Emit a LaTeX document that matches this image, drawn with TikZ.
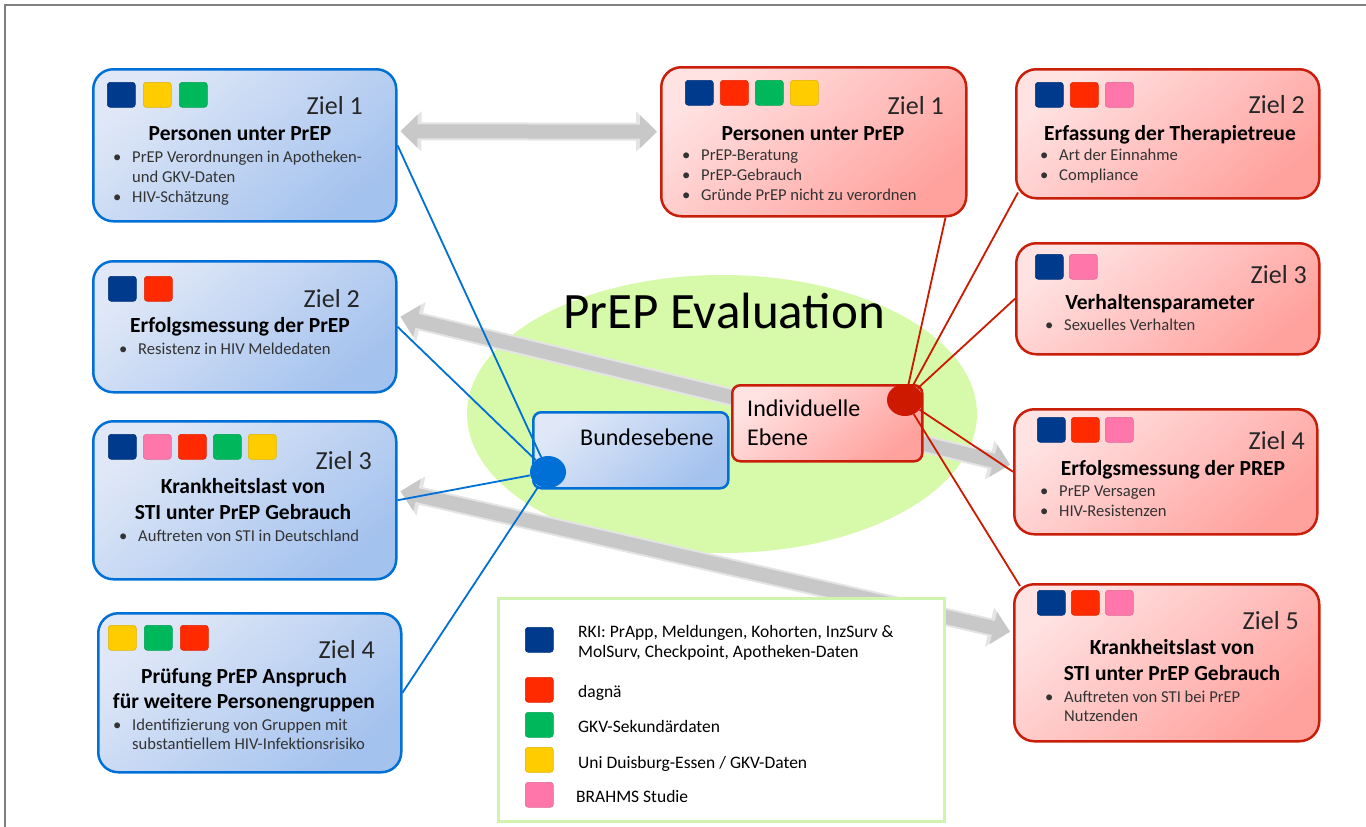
\documentclass[tikz,border=0pt]{standalone}
\usepackage{fontspec}
\setmainfont{Carlito}
\usetikzlibrary{arrows.meta, positioning, calc, backgrounds, shapes.geometric}

\definecolor{bluebd}{RGB}{0,112,214}
\definecolor{bluetop}{RGB}{224,232,247}
\definecolor{bluebot}{RGB}{164,194,238}
\definecolor{redbd}{RGB}{200,30,10}
\definecolor{redtop}{RGB}{255,226,226}
\definecolor{redbot}{RGB}{255,162,158}
\definecolor{reddot}{RGB}{205,25,0}
\definecolor{evalgreen}{RGB}{214,250,170}
\definecolor{legendgreen}{RGB}{208,244,176}
\definecolor{arrowgray}{RGB}{200,200,200}
\definecolor{arrowedge}{RGB}{228,228,228}
\definecolor{framegray}{RGB}{128,128,128}
\definecolor{rki}{RGB}{0,58,140}
\definecolor{dag}{RGB}{255,42,0}
\definecolor{gkv}{RGB}{0,184,92}
\definecolor{uni}{RGB}{255,204,0}
\definecolor{brahms}{RGB}{255,118,170}

\newcommand{\bl}{\makebox[19pt][l]{•}}
\newcommand{\ind}{\hspace*{19pt}}

\tikzset{
  goal/.style={line width=2.5pt, rounded corners=20pt, anchor=north west, inner sep=0pt},
  bluegoal/.style={goal, draw=bluebd, top color=bluetop, bottom color=bluebot, shading angle=40},
  redgoal/.style={goal, draw=redbd, top color=redtop, bottom color=redbot, shading angle=40},
  bluesub/.style={bluegoal, rounded corners=8pt},
  redsub/.style={redgoal, rounded corners=8pt},
  src/.style={rounded corners=3pt, anchor=north west, minimum width=28pt, minimum height=25pt,
    inner sep=0pt, fill=#1, draw=#1!88!black, line width=0.6pt},
  ziel/.style={anchor=base east, inner sep=0pt, font=\fontsize{26}{26}\selectfont, text=black!85},
  ttl/.style={anchor=base, inner sep=0pt, font=\fontsize{21.5}{21.5}\selectfont\bfseries},
  item/.style={anchor=base west, inner sep=0pt, font=\fontsize{16.6}{16.6}\selectfont, text=black!80},
  lgd/.style={anchor=base west, inner sep=0pt, font=\fontsize{17.5}{17.5}\selectfont},
  level/.style={anchor=base west, inner sep=0pt, font=\fontsize{24}{24}\selectfont},
  dot/.style={ellipse, inner sep=0pt, minimum width=36pt, minimum height=32pt},
  bline/.style={draw=bluebd, line width=1.8pt},
  rline/.style={draw=reddot, line width=1.8pt},
  garrow/.style={line width=14pt, draw=arrowgray,
    {Triangle[length=17pt, width=32pt]}-{Triangle[length=17pt, width=32pt]}},
  garrowedge/.style={line width=18pt, draw=arrowedge,
    {Triangle[length=21pt, width=39pt]}-{Triangle[length=21pt, width=39pt]}},
}

\begin{document}
\begin{tikzpicture}[x=1pt, y=-1pt]
  \useasboundingbox (0,0) rectangle (1366,827);
  \draw[framegray, line width=1.5pt] (5,827) -- (5,5) -- (1366,5);

  % Bundesebene: Ziele
  \node[bluegoal, minimum width=303pt, minimum height=152pt] (L1) at (92,68) {};
  \foreach \c [count=\i from 0] in {rki,uni,gkv} \node[src=\c] (L1s\i) at (107+36*\i,82) {};
  \node[ziel] (L1z) at (363,114) {Ziel 1};
  \node[ttl] (L1t) at (240,140) {Personen unter PrEP};
  \node[item] (L1a) at (113,162) {\bl PrEP Verordnungen in Apotheken-};
  \node[item] (L1b) at (113,182) {\ind und GKV-Daten};
  \node[item] (L1c) at (113,202) {\bl HIV-Schätzung};

  \node[bluegoal, minimum width=303pt, minimum height=131pt] (L2) at (92,260) {};
  \foreach \c [count=\i from 0] in {rki,dag} \node[src=\c] (L2s\i) at (108+36*\i,276) {};
  \node[ziel] (L2z) at (360,307) {Ziel 2};
  \node[ttl] (L2t) at (240,332) {Erfolgsmessung der PrEP};
  \node[item] (L2a) at (119,354) {\bl Resistenz in HIV Meldedaten};

  \node[bluegoal, minimum width=303pt, minimum height=158pt] (L3) at (92,420) {};
  \foreach \c [count=\i from 0] in {rki,brahms,dag,gkv,uni} \node[src=\c] (L3s\i) at (108+35*\i,434) {};
  \node[ziel] (L3z) at (372,469) {Ziel 3};
  \node[ttl] (L3t) at (243,493) {Krankheitslast von};
  \node[ttl] (L3u) at (243,519) {STI unter PrEP Gebrauch};
  \node[item] (L3a) at (119,541) {\bl Auftreten von STI in Deutschland};

  \node[bluegoal, minimum width=303pt, minimum height=159pt] (L4) at (97,612) {};
  \foreach \c [count=\i from 0] in {uni,gkv,dag} \node[src=\c] (L4s\i) at (108+36*\i,625) {};
  \node[ziel] (L4z) at (375,658) {Ziel 4};
  \node[ttl] (L4t) at (244,683) {Prüfung PrEP Anspruch};
  \node[ttl] (L4u) at (244,708) {für weitere Personengruppen};
  \node[item] (L4a) at (113,730) {\bl Identifizierung von Gruppen mit};
  \node[item] (L4b) at (113,749) {\ind substantiellem HIV-Infektionsrisiko};

  % Individuelle Ebene: Ziele
  \node[redgoal, minimum width=305pt, minimum height=149pt] (R1) at (660,66) {};
  \foreach \c [count=\i from 0] in {rki,dag,gkv,uni} \node[src=\c] (R1s\i) at (685+35*\i,80) {};
  \node[ziel] (R1z) at (944,114) {Ziel 1};
  \node[ttl] (R1t) at (813,140) {Personen unter PrEP};
  \node[item] (R1a) at (682,160) {\bl PrEP-Beratung};
  \node[item] (R1b) at (682,180) {\bl PrEP-Gebrauch};
  \node[item] (R1c) at (682,200) {\bl Gründe PrEP nicht zu verordnen};

  \node[redgoal, minimum width=303pt, minimum height=129pt] (R2) at (1015,68) {};
  \foreach \c [count=\i from 0] in {rki,dag,brahms} \node[src=\c] (R2s\i) at (1035+35*\i,82) {};
  \node[ziel] (R2z) at (1305,113) {Ziel 2};
  \node[ttl] (R2t) at (1170,140) {Erfassung der Therapietreue};
  \node[item] (R2a) at (1040,160) {\bl Art der Einnahme};
  \node[item] (R2b) at (1040,180) {\bl Compliance};

  \node[redgoal, minimum width=303pt, minimum height=111pt] (R3) at (1015,242) {};
  \foreach \c [count=\i from 0] in {rki,brahms} \node[src=\c] (R3s\i) at (1035+34*\i,254) {};
  \node[ziel] (R3z) at (1307,283) {Ziel 3};
  \node[ttl] (R3t) at (1160,309) {Verhaltensparameter};
  \node[item] (R3a) at (1045,330) {\bl Sexuelles Verhalten};

  \node[redgoal, minimum width=303pt, minimum height=125pt] (R4) at (1013,408) {};
  \foreach \c [count=\i from 0] in {rki,dag,brahms} \node[src=\c] (R4s\i) at (1037+34*\i,417) {};
  \node[ziel] (R4z) at (1305,449) {Ziel 4};
  \node[ttl] (R4t) at (1173,475) {Erfolgsmessung der PREP};
  \node[item] (R4a) at (1040,496) {\bl PrEP Versagen};
  \node[item] (R4b) at (1040,516) {\bl HIV-Resistenzen};

  \node[redgoal, minimum width=305pt, minimum height=157pt] (R5) at (1013,583) {};
  \foreach \c [count=\i from 0] in {rki,dag,brahms} \node[src=\c] (R5s\i) at (1037+34*\i,590) {};
  \node[ziel] (R5z) at (1299,629) {Ziel 5};
  \node[ttl] (R5t) at (1172,654) {Krankheitslast von};
  \node[ttl] (R5u) at (1172,680) {STI unter PrEP Gebrauch};
  \node[item] (R5a) at (1045,702) {\bl Auftreten von STI bei PrEP};
  \node[item] (R5b) at (1045,721) {\ind Nutzenden};

  % Mitte
  \node[anchor=base, inner sep=0pt, font=\fontsize{51}{51}\selectfont] (evalt) at (724,328) {PrEP Evaluation};
  \node[bluesub, minimum width=195pt, minimum height=76pt] (bund) at (532,411) {};
  \node[level] (bundt) at (580,445) {Bundesebene};
  \node[redsub, minimum width=190pt, minimum height=76pt] (indiv) at (731,384) {};
  \node[level] (indivt) at (747,416) {Individuelle};
  \node[level] (indivu) at (747,445) {Ebene};

  % Legende
  \node[draw=legendgreen, line width=3pt, fill=white, anchor=north west, inner sep=0pt,
    minimum width=446pt, minimum height=223pt] (legend) at (497,597) {};
  \node[src=rki] (k1) at (525,627) {};
  \node[src=dag] (k2) at (525,677) {};
  \node[src=gkv] (k3) at (525,712) {};
  \node[src=uni] (k4) at (525,747) {};
  \node[src=brahms] (k5) at (525,782) {};
  \node[lgd] (k1t) at (578,637) {RKI: PrApp, Meldungen, Kohorten, InzSurv \&};
  \node[lgd] (k1u) at (578,657) {MolSurv, Checkpoint, Apotheken-Daten};
  \node[lgd] (k2t) at (578,697) {dagnä};
  \node[lgd] (k3t) at (578,732) {GKV-Sekundärdaten};
  \node[lgd] (k4t) at (578,768) {Uni Duisburg-Essen / GKV-Daten};
  \node[lgd] (k5t) at (576,802) {BRAHMS Studie};

  % Verbindungen
  \node[dot, fill=bluebd] (bdot) at (548,472) {};
  \node[dot, fill=reddot] (rdot) at (905,400) {};
  \draw[bline] (bdot) -- (L1.east);
  \draw[bline] (bdot) -- (L2.east);
  \draw[bline] (bdot) -- (L3.east);
  \draw[bline] (bdot) -- (L4.east);
  \draw[rline] (rdot) -- ($(R1.south east)+(-22,0)$);
  \draw[rline] (rdot) -- ($(R2.south west)+(3,-7)$);
  \draw[rline] (rdot) -- (R3.west);
  \draw[rline] (rdot) -- (R4.west);
  \draw[rline] (rdot) -- ($(R5.north west)+(7,3)$);

  \begin{scope}[on background layer]
    \node[ellipse, fill=evalgreen, inner sep=0pt, minimum width=510pt, minimum height=278pt] (eval) at (722,414) {};
    \draw[garrowedge] ($(L1.east)+(3,-14)$) -- ($(R1.west)+(-3,-10)$);
    \draw[garrow] ($(L1.east)+(3,-14)$) -- ($(R1.west)+(-3,-10)$);
    \draw[garrowedge] ($(L2.east)+(3,-10)$) -- ($(R4.west)+(-3,-7)$);
    \draw[garrow] ($(L2.east)+(3,-10)$) -- ($(R4.west)+(-3,-7)$);
    \draw[garrowedge] ($(L3.east)+(3,-9)$) -- ($(R5.west)+(-3,-31)$);
    \draw[garrow] ($(L3.east)+(3,-9)$) -- ($(R5.west)+(-3,-31)$);
  \end{scope}
\end{tikzpicture}
\end{document}
